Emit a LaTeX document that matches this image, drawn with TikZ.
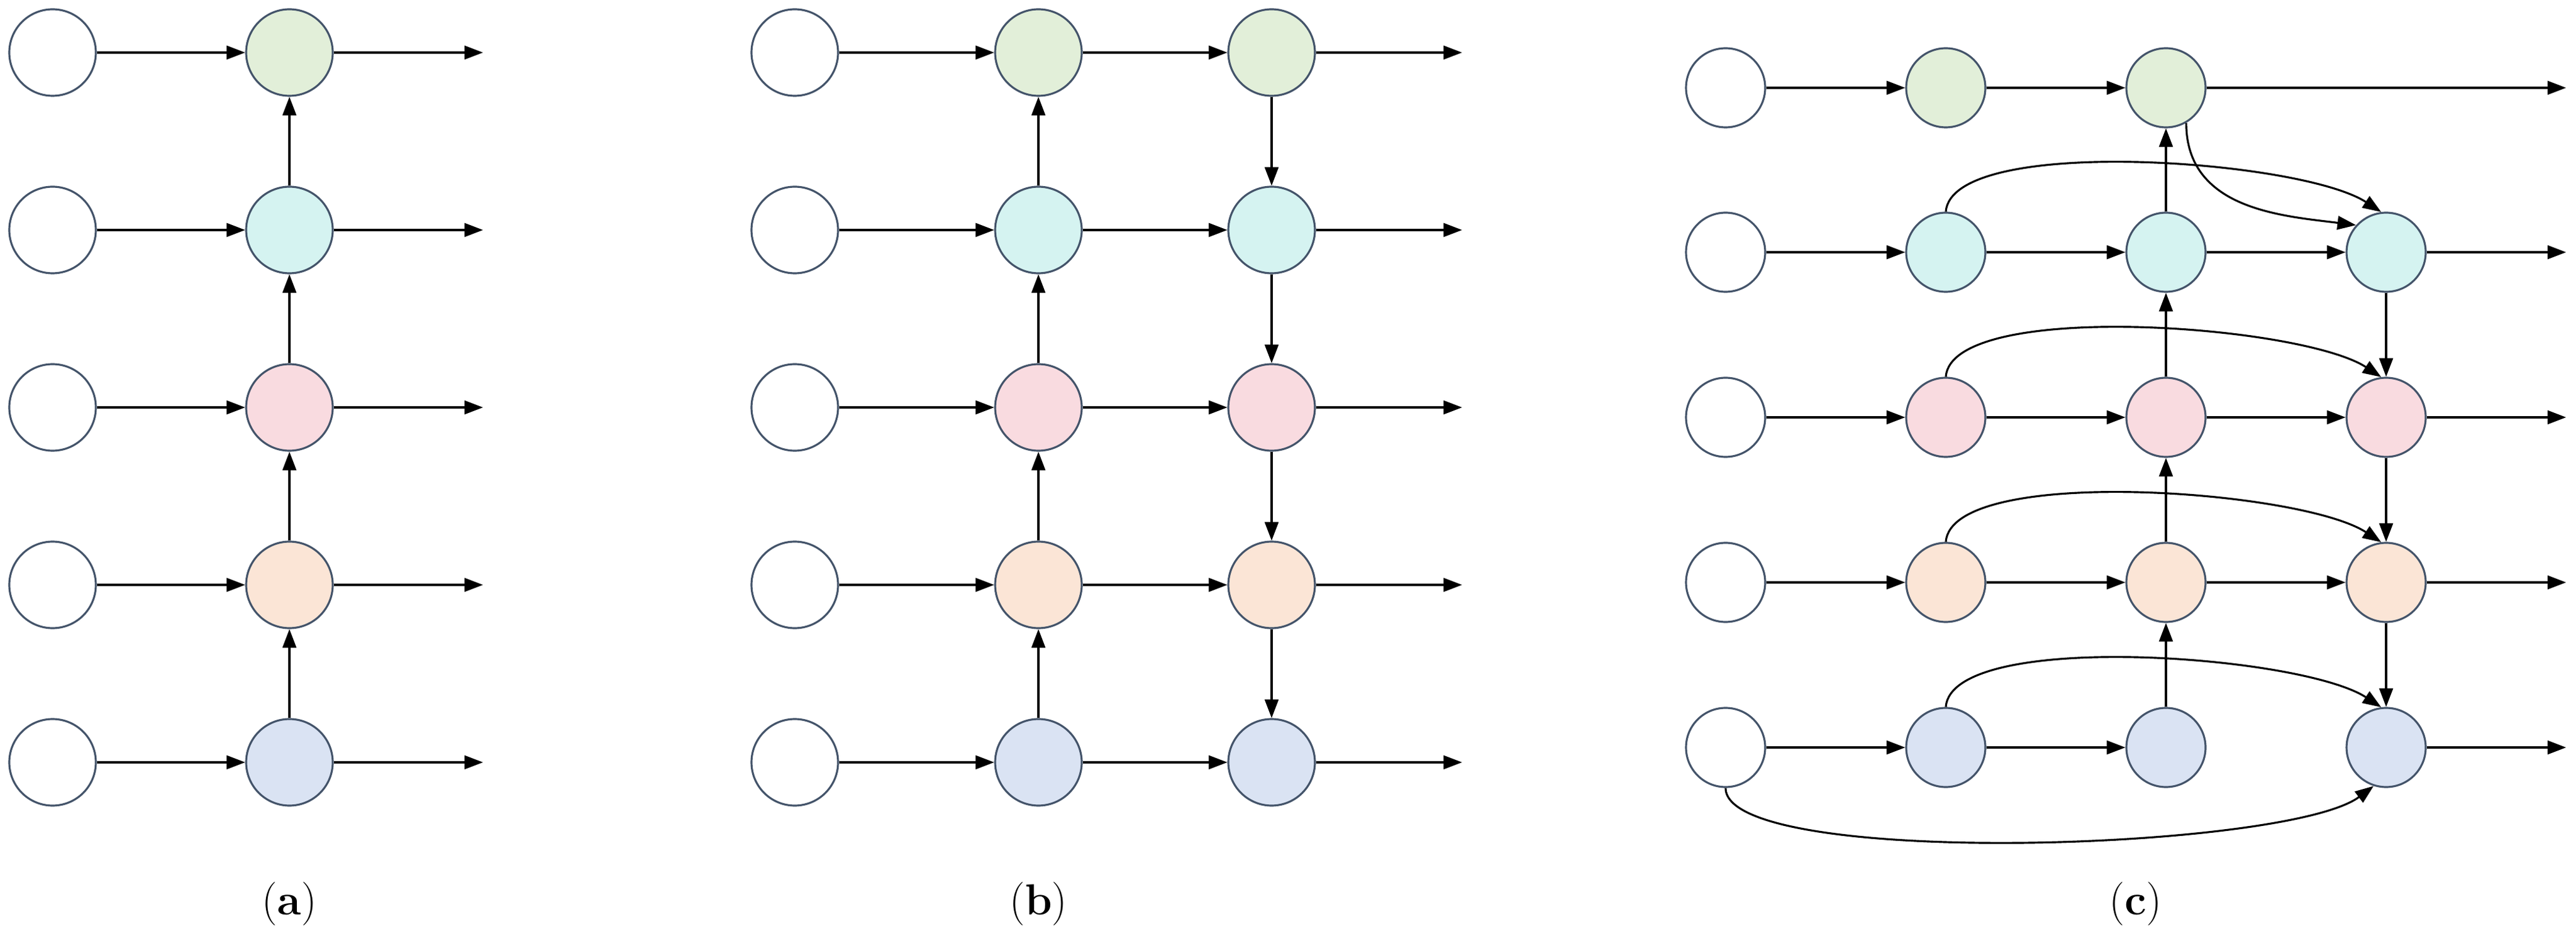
\documentclass[tikz,border=0pt]{standalone}
\usetikzlibrary{arrows.meta}
\definecolor{cg}{HTML}{E2EFD9}
\definecolor{cc}{HTML}{D5F3F1}
\definecolor{cp}{HTML}{F9DBE0}
\definecolor{co}{HTML}{FBE5D6}
\definecolor{cb}{HTML}{DAE3F3}
\definecolor{bd}{HTML}{44546A}
\begin{document}
\begin{tikzpicture}[
  nd/.style={circle,draw=bd,line width=0.9pt,minimum size=1.4cm,inner sep=0},
  ndc/.style={nd,minimum size=1.28cm},
  ar/.style={-{Triangle[length=0.3cm,width=0.22cm]},line width=0.9pt},
  lab/.style={font=\fontsize{20}{24}\selectfont}]
\useasboundingbox (0,0) rectangle (41.65,-15.22);
% ---------- panel a ----------
\foreach \i/\y/\c in {0/12.33/cb,1/9.46/co,2/6.59/cp,3/3.72/cc,4/0.85/cg}{
  \node[nd,fill=white] (a0\i) at (0.85,-\y) {};
  \node[nd,fill=\c] (a1\i) at (4.68,-\y) {};
  \coordinate (ae\i) at (7.81,-\y);
  \draw[ar] (a0\i) -- (a1\i);
  \draw[ar] (a1\i) -- (ae\i);
}
\foreach \i/\j in {0/1,1/2,2/3,3/4}{\draw[ar] (a1\i) -- (a1\j);}
% ---------- panel b ----------
\foreach \i/\y/\c in {0/12.33/cb,1/9.46/co,2/6.59/cp,3/3.72/cc,4/0.85/cg}{
  \node[nd,fill=white] (b0\i) at (12.85,-\y) {};
  \node[nd,fill=\c] (b1\i) at (16.79,-\y) {};
  \node[nd,fill=\c] (b2\i) at (20.56,-\y) {};
  \coordinate (be\i) at (23.64,-\y);
  \draw[ar] (b0\i) -- (b1\i);
  \draw[ar] (b1\i) -- (b2\i);
  \draw[ar] (b2\i) -- (be\i);
}
\foreach \i/\j in {0/1,1/2,2/3,3/4}{\draw[ar] (b1\i) -- (b1\j); \draw[ar] (b2\j) -- (b2\i);}
% ---------- panel c ----------
\foreach \i/\y/\c in {0/12.09/cb,1/9.42/co,2/6.75/cp,3/4.08/cc,4/1.42/cg}{
  \node[ndc,fill=white] (c0\i) at (27.90,-\y) {};
  \node[ndc,fill=\c] (c1\i) at (31.46,-\y) {};
  \node[ndc,fill=\c] (c2\i) at (35.02,-\y) {};
  \coordinate (ce\i) at (41.49,-\y);
  \draw[ar] (c0\i) -- (c1\i);
  \draw[ar] (c1\i) -- (c2\i);
}
\foreach \i/\y/\c in {0/12.09/cb,1/9.42/co,2/6.75/cp,3/4.08/cc}{
  \node[ndc,fill=\c] (c3\i) at (38.58,-\y) {};
  \draw[ar] (c3\i) -- (ce\i);
}
\foreach \i in {1,2,3}{\draw[ar] (c2\i) -- (c3\i);}
\draw[ar] (c24) -- (ce4);
\foreach \i/\j in {0/1,1/2,2/3,3/4}{\draw[ar] (c2\i) -- (c2\j);}
\foreach \i/\j in {0/1,1/2,2/3}{\draw[ar] (c3\j) -- (c3\i);}
\foreach \i in {0,1,2,3}{
  \draw[ar] (c1\i.north) .. controls +(0.1,1.25) and +(-1.3,0.85) .. (c3\i.97);
}
\draw[ar] (c24.-60) .. controls +(0,-1.4) and +(-1.2,0.15) .. (c33.138);
\draw[ar] (c00.south) .. controls +(0,-1.3) and +(-1.4,-1.05) .. (c30.-108);
% labels
\node[lab] (la) at (4.68,-14.62) {(\textbf{a})};
\node[lab] (lb) at (16.79,-14.62) {(\textbf{b})};
\node[lab] (lc) at (34.53,-14.62) {(\textbf{c})};
\end{tikzpicture}
\end{document}
